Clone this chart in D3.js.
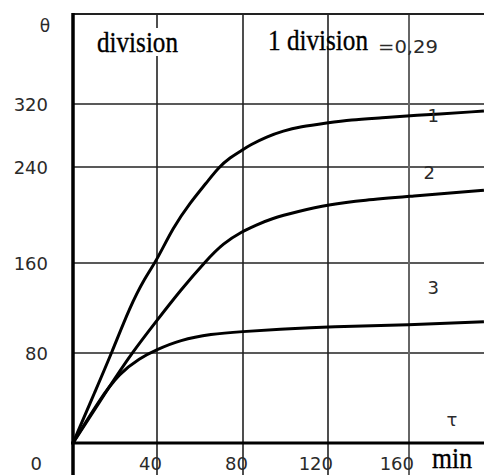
<!DOCTYPE html>
<html>
<head>
<meta charset="utf-8">
<script src="https://cdn.jsdelivr.net/npm/d3@7"></script>
<style>
	body { margin: 0; background: #fff; }
	svg { display: block; }
	.tick { font-family: "DejaVu Sans", sans-serif; font-size: 18px; fill: #2a2a2a; }
	.serif { font-family: "Liberation Serif", "Times New Roman", serif; font-size: 29px; fill: #000; stroke: #000; stroke-width: 0.35px; }
</style>
</head>
<body>
<svg id="chart" width="484" height="475"></svg>
<script>
// tick values
var xTicks = [0, 40, 80, 120, 160];
var yTicks = [0, 80, 160, 240, 320];

// three heating curves, tau in min, theta
var tau1 = [0, 10.8, 18.4, 27.1, 34.3, 39.5, 47.6, 55.3, 63.1, 68.5, 74, 79.4, 83.3, 91.2, 99, 106.8, 119.7, 130.9, 147.3, 160, 197];
var theta1 = [0, 47, 80, 121, 147, 161, 190, 210, 227, 239.5, 252, 261, 268, 278.5, 286, 291, 296, 300, 302.5, 305, 311];

var tau2 = [0, 16.8, 28, 39.5, 51, 63.1, 70.8, 79.4, 86.4, 92.7, 106, 120, 138, 160, 197];
var theta2 = [0, 48.6, 80, 107.8, 136, 162.5, 176.4, 186.1, 191.7, 196.7, 203, 208.6, 212.5, 215.5, 220.7];

var tau3 = [0, 12.5, 22, 31.9, 39.5, 50.7, 65.3, 78.6, 100, 120.5, 160, 197];
var theta3 = [0, 38.2, 62, 75.6, 82.7, 91.6, 96.9, 98.9, 101.5, 103.4, 104.9, 107.8];

var curveNames = ["1", "2", "3"];
var labelTau = [172, 170, 172];
var labelTheta = [305, 235, 138];

(function(){

	var width = 484, height = 475, top = 14;
	var svg = d3.select("#chart");

	// the original is drawn by hand, so the grid spacing is not even
	var x = d3.scaleLinear().domain(xTicks).range([73, 157, 243, 328, 409]);
	var y = d3.scaleLinear().domain(yTicks).range([443, 353, 263, 167, 104]);

	var series = [
		{ name : curveNames[0], pts : d3.zip(tau1, theta1) },
		{ name : curveNames[1], pts : d3.zip(tau2, theta2) },
		{ name : curveNames[2], pts : d3.zip(tau3, theta3) }
	];

	// horizontal grid
	svg.append("g").selectAll("line").data(yTicks.slice(1)).enter().append("line")
		.attr("x1", x(0)).attr("x2", width)
		.attr("y1", function(d) { return y(d); })
		.attr("y2", function(d) { return y(d); })
		.attr("stroke", "#222").attr("stroke-width", 1.6);

	// vertical grid, runs past the axis to the bottom edge
	svg.append("g").selectAll("line").data(xTicks.slice(1)).enter().append("line")
		.attr("x1", function(d) { return x(d); })
		.attr("x2", function(d) { return x(d); })
		.attr("y1", top).attr("y2", height)
		.attr("stroke", function(d) { return d == 160 ? "#666" : "#222"; })
		.attr("stroke-width", function(d) { return d == 160 ? 2 : 1.6; });

	// frame top
	svg.append("line").attr("x1", x(0)).attr("x2", width).attr("y1", top).attr("y2", top)
		.attr("stroke", "#222").attr("stroke-width", 2);

	// axes
	svg.append("line").attr("x1", x(0)).attr("x2", x(0)).attr("y1", top - 1).attr("y2", height)
		.attr("stroke", "#000").attr("stroke-width", 3.5);
	svg.append("line").attr("x1", x(0) - 2).attr("x2", width).attr("y1", y(0)).attr("y2", y(0))
		.attr("stroke", "#000").attr("stroke-width", 3);

	// curves
	var line = d3.line()
		.x(function(d) { return x(d[0]); })
		.y(function(d) { return y(d[1]); })
		.curve(d3.curveBasis);

	svg.append("g").selectAll("path").data(series).enter().append("path")
		.attr("d", function(d) { return line(d.pts); })
		.attr("fill", "none").attr("stroke", "#000").attr("stroke-width", 3);

	// y tick labels
	svg.append("g").selectAll("text").data(yTicks.slice(1)).enter().append("text")
		.attr("class", "tick")
		.attr("x", 48)
		.attr("y", function(d) { return y(d) + 1; })
		.attr("dy", "0.35em")
		.attr("text-anchor", "end")
		.text(function(d) { return d; });

	svg.append("text").attr("class", "tick").attr("x", 42).attr("y", 470)
		.attr("text-anchor", "end").text(yTicks[0]);

	// x tick labels along the bottom edge
	svg.append("g").selectAll("text").data(xTicks.slice(1)).enter().append("text")
		.attr("class", "tick")
		.attr("x", function(d) { return x(d) + 5; })
		.attr("y", 470)
		.attr("text-anchor", "end")
		.text(function(d) { return d; });

	// curve numbers
	svg.append("g").selectAll("text").data(curveNames).enter().append("text")
		.attr("class", "tick")
		.attr("x", function(d, i) { return x(labelTau[i]); })
		.attr("y", function(d, i) { return y(labelTheta[i]); })
		.attr("dy", "0.35em")
		.attr("text-anchor", "middle")
		.text(function(d) { return d; });

	// axis symbols and units
	svg.append("text").attr("class", "tick").attr("x", 45).attr("y", 32)
		.attr("text-anchor", "middle").style("font-size", "17px").text("θ");
	svg.append("text").attr("class", "tick").attr("x", 452).attr("y", 426)
		.attr("text-anchor", "middle").style("font-size", "18px").text("τ");
	svg.append("text").attr("class", "serif").attr("x", 432).attr("y", 468)
		.attr("textLength", 40).attr("lengthAdjust", "spacingAndGlyphs").text("min");

	// header notes; the first one sits in a white box over the grid line
	svg.append("rect").attr("x", 95).attr("y", 28).attr("width", 86).attr("height", 28).attr("fill", "#fff");
	svg.append("text").attr("class", "serif").attr("x", 97).attr("y", 52)
		.attr("textLength", 81).attr("lengthAdjust", "spacingAndGlyphs").text("division");
	svg.append("text").attr("class", "serif").attr("x", 268).attr("y", 50)
		.attr("textLength", 100).attr("lengthAdjust", "spacingAndGlyphs").text("1 division");
	svg.append("text").attr("class", "tick").attr("x", 378).attr("y", 53)
		.attr("textLength", 60).attr("lengthAdjust", "spacingAndGlyphs").text("=0,29");

})();
</script>
</body>
</html>
